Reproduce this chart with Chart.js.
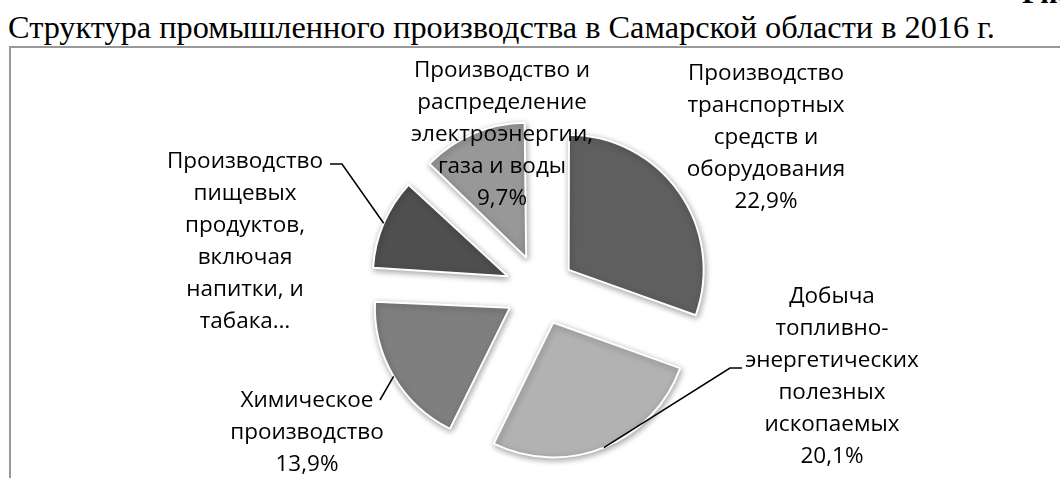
<!DOCTYPE html>
<html>
<head>
<meta charset="utf-8">
<script src="https://cdn.jsdelivr.net/npm/chart.js@4"></script>
<style>
	body { margin: 0; width: 1060px; height: 478px; overflow: hidden; background: #fff; position: relative; }
	#title { position: absolute; left: 8px; top: 12px; font-family: "Liberation Serif", serif; font-size: 31px; line-height: 31px; color: #000; white-space: nowrap; }
	#fig { position: absolute; left: 1022px; top: -22px; font: bold 30px/30px "Liberation Serif", serif; color: #000; white-space: nowrap; }
	#frame { position: absolute; left: 9px; top: 46px; width: 1060px; height: 440px; border-left: 2px solid #999; border-top: 2px solid #999; }
	canvas { position: absolute; left: 0; top: 0; }
</style>
</head>
<body>
<div id="fig">Рис. 1</div>
<div id="title">Структура промышленного производства в Самарской области в 2016 г.</div>
<div id="frame"></div>
<canvas id="pie" width="1060" height="478"></canvas>
<script>
// shares of industrial output, %
const categories = [
	'Производство транспортных средств и оборудования',
	'Добыча топливно-энергетических полезных ископаемых',
	'Химическое производство',
	'Производство пищевых продуктов, включая напитки, и табака',
	'Производство и распределение электроэнергии, газа и воды'
];
const labelLines = [
	['Производство', 'транспортных', 'средств и', 'оборудования'],
	['Добыча', 'топливно-', 'энергетических', 'полезных', 'ископаемых'],
	['Химическое', 'производство'],
	['Производство', 'пищевых', 'продуктов,', 'включая', 'напитки, и', 'табака…'],
	['Производство и', 'распределение', 'электроэнергии,', 'газа и воды']
];
const shares = [22.9, 20.1, 13.9, 8.5, 9.7];
const valueShown = [true, true, true, false, true];

const sliceColors = ['#5f5f5f', '#b2b2b2', '#7f7f7f', '#4f4f4f', '#989898'];
const EXPLODE = 35;
const RADIUS = 135;
const LABEL_FONT = '22.5px "Open Sans"';
const LINE_STEP = 32;
const TITLE_WIDTH = 987;
// label centres and leader points, relative to the pie centre
const labelPlaces = [
	{ dx: 226, dy: -152 },
	{ dx: 292, dy: 87, leader: [[202, 78], [190, 78]] },
	{ dx: -233, dy: 143, leader: [[-160, 110]] },
	{ dx: -295, dy: -48, leader: [[-210, -126], [-198, -126]] },
	{ dx: -38, dy: -155 }
];

function formatShare(v) {
	return v.toFixed(1).replace('.', ',') + '%';
}

// stretch the caption to the width it has in the figure
function fitTitle() {
	const title = document.getElementById('title');
	const probe = document.createElement('canvas').getContext('2d');
	probe.font = '31px "Liberation Serif"';
	const size = 31 * TITLE_WIDTH / probe.measureText(title.textContent).width;
	title.style.fontSize = size.toFixed(2) + 'px';
	title.style.lineHeight = size.toFixed(2) + 'px';
	title.style.top = (38 - 0.8375 * size).toFixed(1) + 'px';
}
fitTitle();

const sliceShadow = {
	id: 'sliceShadow',
	beforeDatasetsDraw(chart) {
		const meta = chart.getDatasetMeta(0);
		const base = meta.controller.outerRadius;
		// chart.js grows small exploded slices, keep them all the same size
		meta.data.forEach(arc => {
			const sweep = arc.endAngle - arc.startAngle;
			arc.outerRadius = base - (arc.options.offset / 4) * (1 - Math.sin(Math.min(Math.PI, sweep)));
		});
		const ctx = chart.ctx;
		ctx.save();
		ctx.shadowColor = 'rgba(0, 0, 0, 0.35)';
		ctx.shadowBlur = 6;
		ctx.shadowOffsetX = 1;
		ctx.shadowOffsetY = 2;
	},
	afterDatasetsDraw(chart) {
		chart.ctx.restore();
	}
};

const sliceLabels = {
	id: 'sliceLabels',
	afterDraw(chart) {
		const ctx = chart.ctx;
		const meta = chart.getDatasetMeta(0);
		const base = meta.controller.outerRadius;
		ctx.save();
		ctx.font = LABEL_FONT;
		ctx.fillStyle = '#000';
		ctx.strokeStyle = '#000';
		ctx.lineWidth = 1.5;
		ctx.textAlign = 'center';
		ctx.textBaseline = 'middle';
		meta.data.forEach((arc, i) => {
			const cx = arc.x;
			const cy = arc.y;
			const place = labelPlaces[i];
			const lines = labelLines[i].slice();
			if (valueShown[i]) lines.push(formatShare(shares[i]));
			lines.forEach((line, k) => {
				ctx.fillText(line, cx + place.dx, cy + place.dy + (k - (lines.length - 1) / 2) * LINE_STEP);
			});
			if (place.leader) {
				const mid = (arc.startAngle + arc.endAngle) / 2;
				const reach = EXPLODE + base;
				ctx.beginPath();
				place.leader.forEach((p, k) => {
					if (k === 0) ctx.moveTo(cx + p[0], cy + p[1]);
					else ctx.lineTo(cx + p[0], cy + p[1]);
				});
				ctx.lineTo(cx + Math.cos(mid) * reach, cy + Math.sin(mid) * reach);
				ctx.stroke();
			}
		});
		ctx.restore();
	}
};

new Chart(document.getElementById('pie'), {
	type: 'pie',
	data: {
		labels: categories,
		datasets: [{
			data: shares,
			backgroundColor: sliceColors,
			borderColor: '#fff',
			borderWidth: 2,
			offset: EXPLODE * 4,
			radius: RADIUS
		}]
	},
	options: {
		responsive: false,
		animation: false,
		layout: { padding: { left: 20, right: 0, top: 102, bottom: 0 } },
		plugins: {
			legend: { display: false },
			tooltip: { enabled: false }
		}
	},
	plugins: [sliceShadow, sliceLabels]
});
</script>
</body>
</html>
